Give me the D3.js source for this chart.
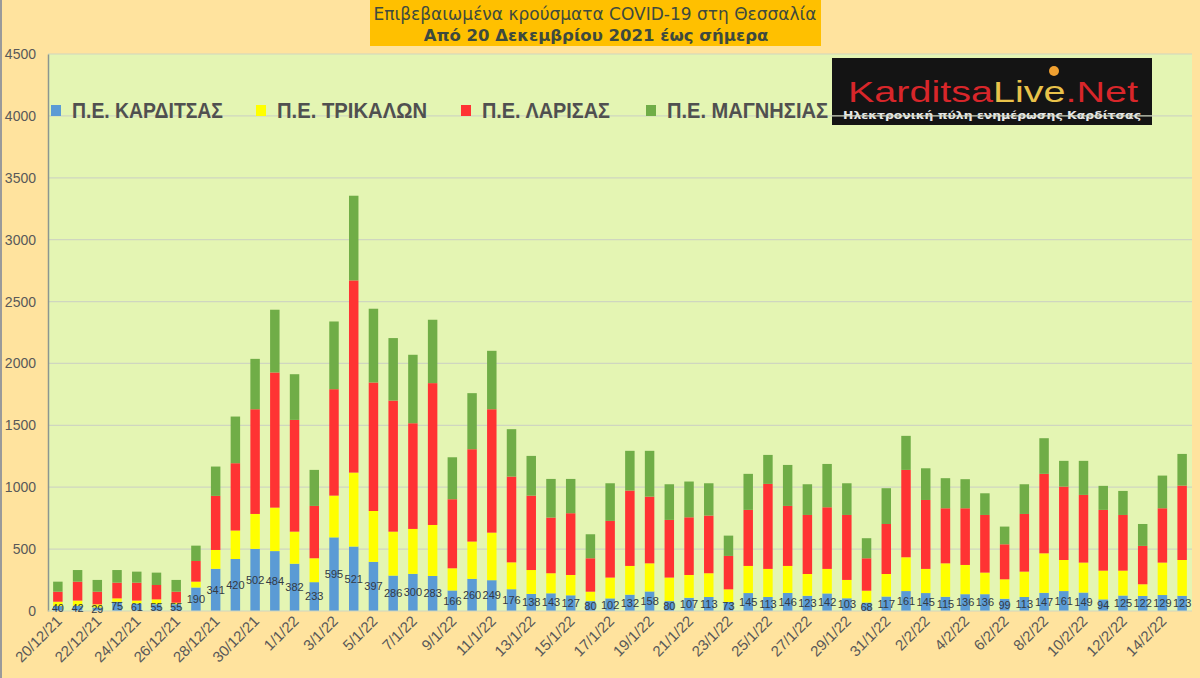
<!DOCTYPE html>
<html>
<head>
<meta charset="utf-8">
<script src="https://d3js.org/d3.v7.min.js"></script>
<style>
  html, body { margin: 0; padding: 0; background: #ffe39e; }
  svg { display: block; }
</style>
</head>
<body>
<div id="chart"></div>
<script>
// days shown on the category axis
const days = [
  '20/12/21','21/12/21','22/12/21','23/12/21','24/12/21','25/12/21','26/12/21','27/12/21','28/12/21','29/12/21',
  '30/12/21','31/12/21','1/1/22','2/1/22','3/1/22','4/1/22','5/1/22','6/1/22','7/1/22','8/1/22',
  '9/1/22','10/1/22','11/1/22','12/1/22','13/1/22','14/1/22','15/1/22','16/1/22','17/1/22','18/1/22',
  '19/1/22','20/1/22','21/1/22','22/1/22','23/1/22','24/1/22','25/1/22','26/1/22','27/1/22','28/1/22',
  '29/1/22','30/1/22','31/1/22','1/2/22','2/2/22','3/2/22','4/2/22','5/2/22','6/2/22','7/2/22',
  '8/2/22','9/2/22','10/2/22','11/2/22','12/2/22','13/2/22','14/2/22','15/2/22'
];

// cases per regional unit
const karditsa = [40,42,29,75,61,55,55,190,341,420,502,484,382,233,595,521,397,286,300,283,
  166,260,249,176,138,143,127,80,102,132,158,80,107,113,73,145,113,146,123,142,
  103,68,117,161,145,115,136,136,99,113,147,161,149,94,125,122,129,123];
const trikala = [35,42,25,27,23,39,12,47,152,230,282,351,259,193,337,597,411,355,363,412,
  179,301,384,217,193,162,164,76,168,232,227,190,184,192,102,219,227,218,176,198,
  148,96,182,273,195,270,236,174,157,205,319,251,242,232,201,94,262,289];
const larisa = [81,153,102,127,145,116,89,167,437,544,846,1092,903,423,860,1553,1038,1059,854,1146,
  558,746,997,693,601,450,499,270,458,609,539,466,466,466,270,453,687,485,477,498,
  525,262,404,706,557,445,458,466,283,466,642,593,547,491,450,310,439,601];
const magnisia = [81,94,95,102,89,100,95,124,237,377,407,507,369,291,547,684,596,505,553,512,
  339,453,472,383,321,312,277,194,304,321,370,288,289,261,164,291,234,331,248,350,
  256,162,289,275,256,243,235,175,143,240,288,208,275,194,194,177,264,256];

const seriesNames = ['Π.Ε. ΚΑΡΔΙΤΣΑΣ', 'Π.Ε. ΤΡΙΚΑΛΩΝ', 'Π.Ε. ΛΑΡΙΣΑΣ', 'Π.Ε. ΜΑΓΝΗΣΙΑΣ'];
const yTicks = [0,500,1000,1500,2000,2500,3000,3500,4000,4500];
const colors = ['#5b9bd5', '#ffff00', '#ff3333', '#70ad47'];

const W = 1200, H = 678;
const margin = { top: 54, right: 8, bottom: 67, left: 48 };

const svg = d3.select('#chart').append('svg')
  .attr('width', W)
  .attr('height', H);

svg.append('rect').attr('width', W).attr('height', H).attr('fill', '#ffe39e');
svg.append('line').attr('x1', 1).attr('x2', 1).attr('y1', 0).attr('y2', H)
  .attr('stroke', '#9a9a9a').attr('stroke-width', 2);

const x = d3.scaleBand()
  .domain(days)
  .range([margin.left, W - margin.right])
  .paddingInner(0.52)
  .paddingOuter(0.26);

const y = d3.scaleLinear()
  .domain([0, 4500])
  .range([H - margin.bottom, margin.top]);

// plot area
svg.append('rect')
  .attr('x', margin.left)
  .attr('y', margin.top)
  .attr('width', W - margin.right - margin.left)
  .attr('height', y(0) - margin.top)
  .attr('fill', '#e4f5b3');

// logo box
const logo = svg.append('g');
logo.append('rect')
  .attr('x', 832).attr('y', 58).attr('width', 320).attr('height', 67)
  .attr('fill', '#141414');
logo.append('circle').attr('cx', 1054).attr('cy', 71).attr('r', 5).attr('fill', '#f0a030');
logo.append('text')
  .attr('x', 848).attr('y', 102)
  .attr('textLength', 290).attr('lengthAdjust', 'spacingAndGlyphs')
  .style('font-family', 'Liberation Sans, Arial, sans-serif')
  .style('font-size', '30px')
  .call(t => {
    t.append('tspan').attr('fill', '#d8262a').text('Karditsa');
    t.append('tspan').attr('fill', '#e9c24a').text('Live');
    t.append('tspan').attr('fill', '#d8262a').text('.Net');
  });
logo.append('text')
  .attr('x', 843).attr('y', 119)
  .attr('textLength', 298).attr('lengthAdjust', 'spacingAndGlyphs')
  .attr('fill', '#e8e8e8')
  .style('font-family', 'DejaVu Sans, sans-serif')
  .style('font-size', '11px')
  .style('font-weight', 'bold')
  .text('Ηλεκτρονική πύλη ενημέρωσης Καρδίτσας');

// gridlines
svg.append('g')
  .selectAll('line')
  .data(yTicks.slice(1))
  .join('line')
  .attr('x1', margin.left)
  .attr('x2', W - margin.right)
  .attr('y1', d => y(d))
  .attr('y2', d => y(d))
  .attr('stroke', '#cfd6c0')
  .attr('stroke-width', 1.2);

// y axis
const yAxis = svg.append('g')
  .attr('transform', `translate(${margin.left},0)`)
  .call(d3.axisLeft(y).tickValues(yTicks).tickFormat(d3.format('d')).tickSize(0).tickPadding(12));
yAxis.select('.domain').attr('stroke', '#8c9690').attr('stroke-width', 1.5);
yAxis.selectAll('text')
  .attr('fill', '#595959')
  .style('font-family', 'Liberation Sans, Arial, sans-serif')
  .style('font-size', '14px');

// stacked bars
const table = days.map((d, i) => ({
  day: d, k: karditsa[i], t: trikala[i], l: larisa[i], m: magnisia[i]
}));
const stack = d3.stack().keys(['k', 't', 'l', 'm'])(table);

svg.append('g')
  .selectAll('g')
  .data(stack)
  .join('g')
  .attr('fill', (d, i) => colors[i])
  .selectAll('rect')
  .data(d => d)
  .join('rect')
  .attr('x', d => x(d.data.day))
  .attr('width', x.bandwidth())
  .attr('y', d => y(d[1]))
  .attr('height', d => y(d[0]) - y(d[1]));

// x axis baseline
svg.append('line')
  .attr('x1', margin.left).attr('x2', W - margin.right)
  .attr('y1', y(0)).attr('y2', y(0))
  .attr('stroke', '#cfd6c0');

// value labels on the Karditsa segment
svg.append('g')
  .selectAll('text')
  .data(table)
  .join('text')
  .attr('x', d => x(d.day) + x.bandwidth() / 2)
  .attr('y', d => y(d.k / 2))
  .attr('dy', '0.35em')
  .attr('text-anchor', 'middle')
  .attr('fill', '#333a44')
  .style('font-family', 'Liberation Sans, Arial, sans-serif')
  .style('font-size', '11px')
  .text(d => d.k);

// category labels every second day
svg.append('g')
  .selectAll('text')
  .data(days.filter((d, i) => i % 2 === 0))
  .join('text')
  .attr('transform', d => `translate(${x(d) + x.bandwidth() / 2 + 5},${y(0) + 11}) rotate(-45)`)
  .attr('text-anchor', 'end')
  .attr('fill', '#595959')
  .style('font-family', 'Liberation Sans, Arial, sans-serif')
  .style('font-size', '15px')
  .text(d => d);

// legend (condensed bold text squeezed to the original widths)
const legendX = [72, 277, 482, 667];
const legendW = [151, 150, 128, 161];
const legend = svg.append('g')
  .selectAll('g')
  .data(seriesNames)
  .join('g')
  .attr('transform', (d, i) => `translate(${legendX[i]},118)`);
legend.append('rect')
  .attr('x', -21).attr('y', -13).attr('width', 10).attr('height', 11)
  .attr('fill', (d, i) => colors[i]);
legend.append('text')
  .attr('x', 0).attr('y', 0)
  .attr('textLength', (d, i) => legendW[i])
  .attr('lengthAdjust', 'spacingAndGlyphs')
  .attr('fill', '#505050')
  .style('font-family', 'Liberation Sans, Arial, sans-serif')
  .style('font-weight', 'bold')
  .style('font-size', '22.5px')
  .text(d => d);

// title box
svg.append('rect')
  .attr('x', 370).attr('y', 0).attr('width', 451).attr('height', 46)
  .attr('fill', '#ffc000');
svg.append('text')
  .attr('x', 595).attr('y', 20)
  .attr('text-anchor', 'middle')
  .attr('fill', '#3e4a3e')
  .style('font-family', 'DejaVu Sans, sans-serif')
  .style('font-size', '17px')
  .text('Επιβεβαιωμένα κρούσματα COVID-19 στη Θεσσαλία');
svg.append('text')
  .attr('x', 596).attr('y', 41)
  .attr('text-anchor', 'middle')
  .attr('fill', '#3e4a3e')
  .style('font-family', 'DejaVu Sans, sans-serif')
  .style('font-size', '16.5px')
  .style('font-weight', 'bold')
  .text('Από 20 Δεκεμβρίου 2021 έως σήμερα');
</script>
</body>
</html>
